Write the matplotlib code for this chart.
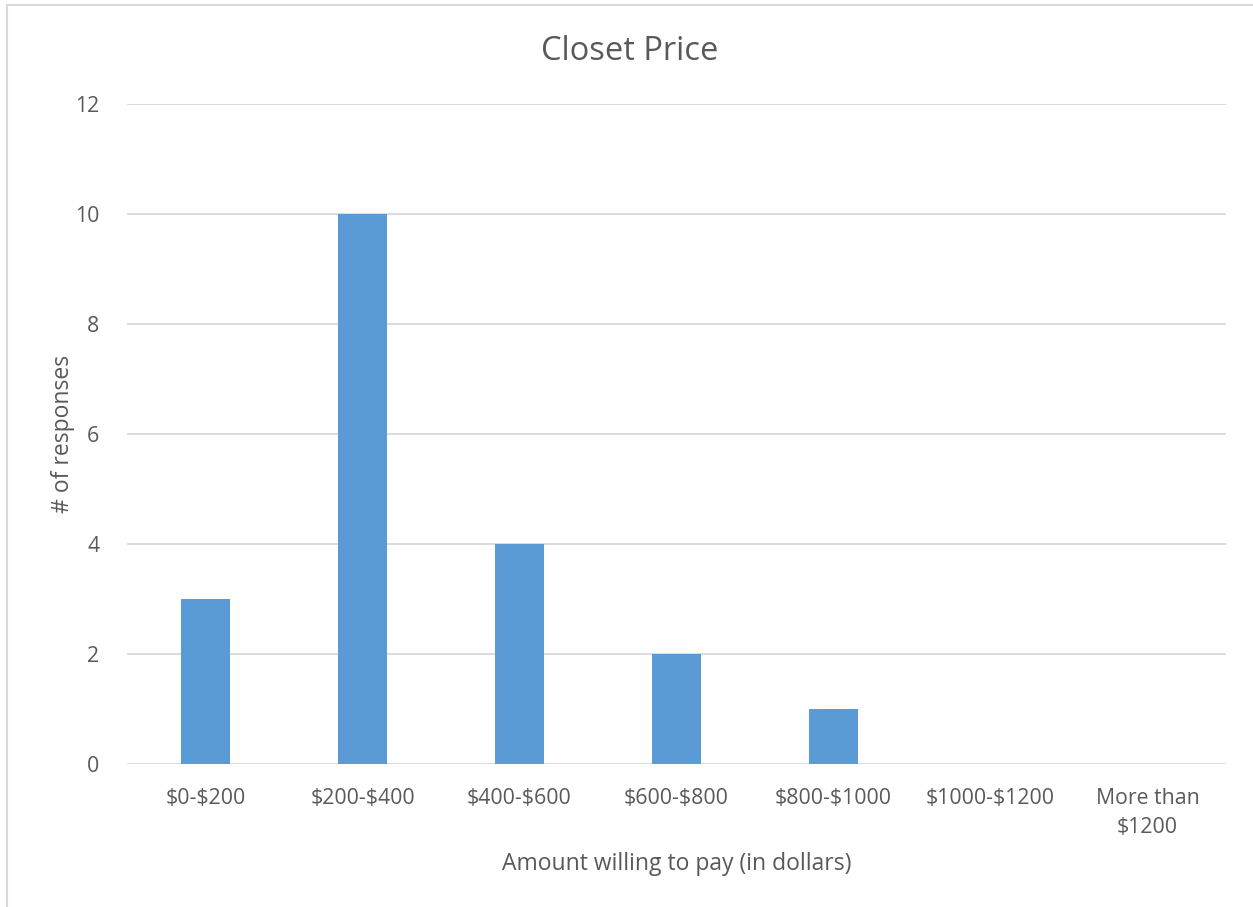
import matplotlib.pyplot as plt
from matplotlib.lines import Line2D
import numpy as np

plt.rcParams['font.family'] = ['Open Sans', 'DejaVu Sans']
plt.rcParams['text.parse_math'] = False

categories = ['$0-$200', '$200-$400', '$400-$600', '$600-$800',
              '$800-$1000', '$1000-$1200', 'More than\n$1200']
responses = [3, 10, 4, 2, 1, 0, 0]

W, H = 1253, 907
text_col = '#595959'
grid_col = '#d9d9d9'
bar_col = '#5b9bd5'

fig = plt.figure(figsize=(W / 100, H / 100), dpi=100)
ax = fig.add_axes([127 / W, 1 - 764 / H, (1226 - 127) / W, (764 - 104) / H])

x = np.arange(len(categories))
ax.bar(x, responses, width=0.31, color=bar_col, zorder=3)

ax.set_xlim(-0.5, len(categories) - 0.5)
ax.set_ylim(0, 12)
ax.set_yticks(range(0, 13, 2))
ax.set_xticks(x)
ax.set_xticklabels(categories, linespacing=1.55)
ax.tick_params(axis='both', length=0, colors=text_col, labelsize=15.3)
ax.tick_params(axis='x', pad=17)
ax.tick_params(axis='y', pad=20)
ax.grid(axis='y', color=grid_col, lw=1.3, zorder=0)
for s in ax.spines.values():
    s.set_visible(False)

ax.set_xlabel('Amount willing to pay (in dollars)', fontsize=16.5, color=text_col, labelpad=10)
ax.set_ylabel('# of responses', fontsize=16.5, color=text_col, labelpad=0)
fig.text(630 / W, 1 - 52 / H, 'Closet Price', ha='center', va='center', fontsize=23.5, color=text_col)

# chart frame
fig.add_artist(Line2D([7 / W, 1], [1 - 5 / H, 1 - 5 / H], color=grid_col, lw=1.5))
fig.add_artist(Line2D([7 / W, 7 / W], [0, 1 - 5 / H], color=grid_col, lw=1.5))

fig.savefig('out.png', dpi=100)
